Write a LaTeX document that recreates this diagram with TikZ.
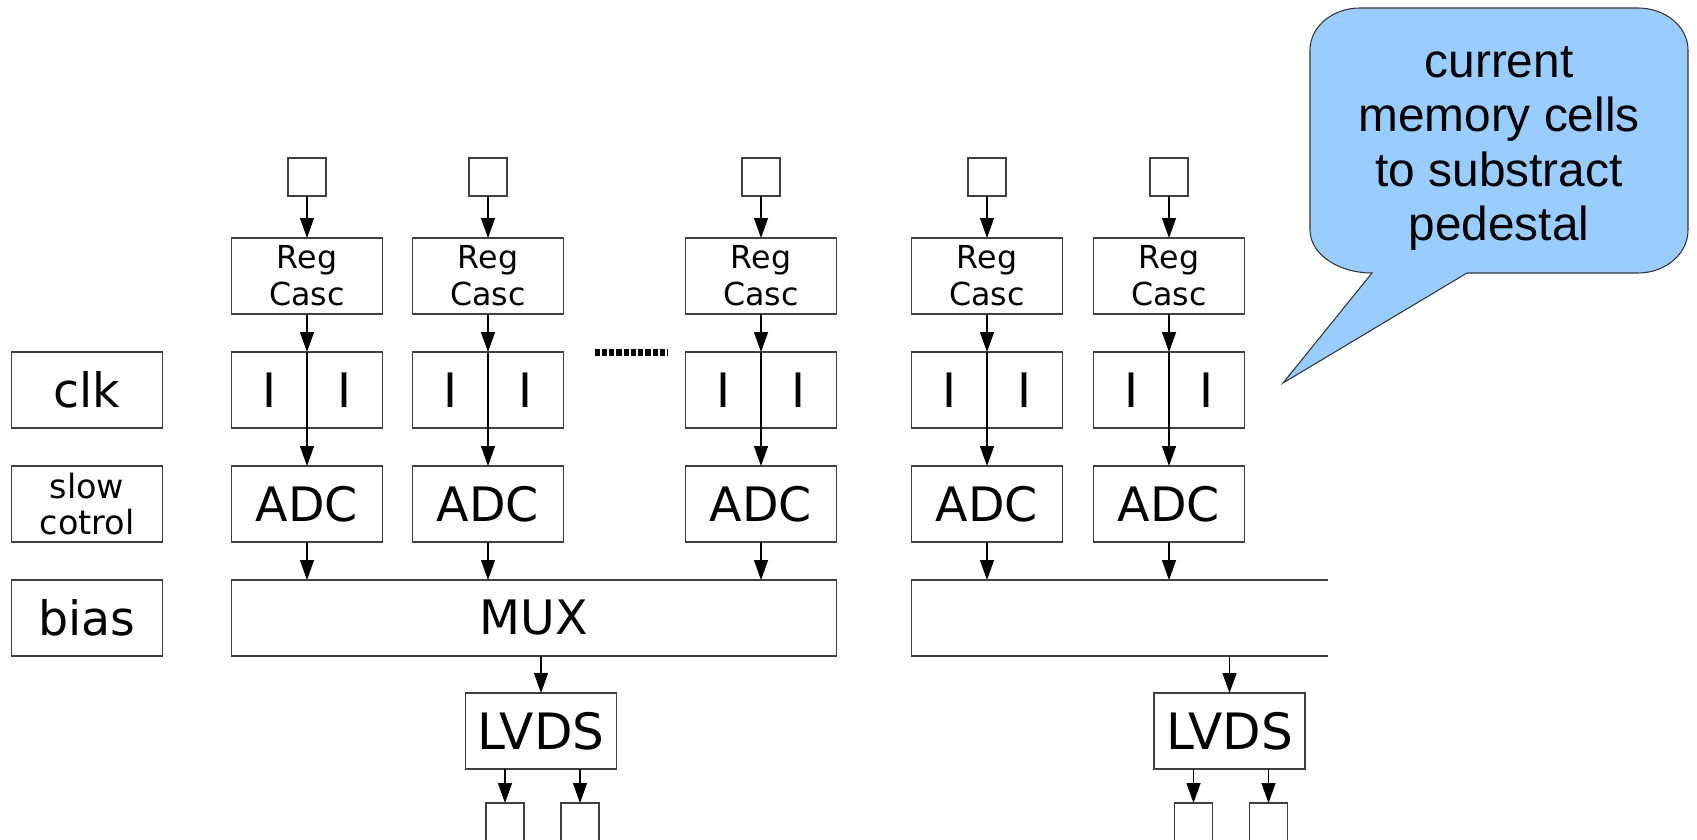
\documentclass[tikz,border=0pt]{standalone}
\usepackage{fontspec}
\setmainfont{DejaVu Sans}
\newfontfamily\notefont{Liberation Sans}
\usepackage{xcolor}
\usetikzlibrary{arrows.meta, positioning, calc}

\definecolor{noteblue}{HTML}{99CCFF}

\begin{document}
\begin{tikzpicture}[
    node distance=0.76cm,
    blk/.style={rectangle, draw=black!75, line width=0.75pt, minimum width=3.02cm, minimum height=1.52cm, inner sep=0pt, outer sep=0pt, align=center, font=\fontsize{27}{32}\selectfont},
    regblk/.style={blk, font=\fontsize{18}{21}\selectfont},
    padblk/.style={rectangle, draw=black!75, line width=0.75pt, minimum size=0.76cm, inner sep=0pt, outer sep=0pt},
    arr/.style={-{Triangle[length=0.4cm, width=0.28cm]}, line width=0.75pt, color=black},
    dotline/.style={line width=0.14cm, dash pattern=on 0.105cm off 0.04cm},
    bubble/.style={draw=black!80, line width=0.6pt, fill=noteblue}
]
\useasboundingbox (0,0) rectangle (33.94,-16.8);

% register cascades
\node[regblk] (reg1) at (6.14,-5.52) {Reg\\Casc};
\node[regblk, right=0.6cm of reg1] (reg2) {Reg\\Casc};
\node[regblk, right=2.44cm of reg2] (reg3) {Reg\\Casc};
\node[regblk, right=1.5cm of reg3] (reg4) {Reg\\Casc};
\node[regblk, right=0.62cm of reg4] (reg5) {Reg\\Casc};

% input pads
\node[padblk, above=0.84cm of reg1] (in1) {};
\node[padblk, above=0.84cm of reg2] (in2) {};
\node[padblk, above=0.84cm of reg3] (in3) {};
\node[padblk, above=0.84cm of reg4] (in4) {};
\node[padblk, above=0.84cm of reg5] (in5) {};

% current memory cells
\node[blk, below=of reg1] (i1) {\makebox[1.51cm]{I}\makebox[1.51cm]{I}};
\node[blk, below=of reg2] (i2) {\makebox[1.51cm]{I}\makebox[1.51cm]{I}};
\node[blk, below=of reg3] (i3) {\makebox[1.51cm]{I}\makebox[1.51cm]{I}};
\node[blk, below=of reg4] (i4) {\makebox[1.51cm]{I}\makebox[1.51cm]{I}};
\node[blk, below=of reg5] (i5) {\makebox[1.51cm]{I}\makebox[1.51cm]{I}};

\node[blk, below=of i1] (adc1) {ADC};
\node[blk, below=of i2] (adc2) {ADC};
\node[blk, below=of i3] (adc3) {ADC};
\node[blk, below=of i4] (adc4) {ADC};
\node[blk, below=of i5] (adc5) {ADC};

\node[blk, minimum width=12.1cm, below=of adc1.south west, anchor=north west] (mux1) {MUX};
\node[blk, draw=none, minimum width=8.32cm, below=of adc4.south west, anchor=north west] (mux2) {};
\draw[draw=black!75, line width=0.75pt] (mux2.north east) -- (mux2.north west) -- (mux2.south west) -- (mux2.south east);

\node[blk, below=0.74cm of mux1, xshift=0.14cm, font=\fontsize{28.5}{32}\selectfont] (lvds1) {LVDS};
\node[blk, below=0.74cm of mux2.south west, xshift=6.36cm, font=\fontsize{28.5}{32}\selectfont] (lvds2) {LVDS};

\node[padblk, below=0.68cm of lvds1, xshift=-0.72cm] (out1) {};
\node[padblk, below=0.68cm of lvds1, xshift=0.78cm] (out2) {};
\node[padblk, below=0.68cm of lvds2, xshift=-0.72cm] (out3) {};
\node[padblk, below=0.68cm of lvds2, xshift=0.78cm] (out4) {};

% control inputs
\node[blk, left=1.38cm of i1, font=\fontsize{27}{32}\selectfont] (clk) {clk};
\node[regblk, left=1.38cm of adc1, font=\fontsize{19}{20.5}\selectfont] (slow) {slow\\cotrol};
\node[blk, left=1.38cm of mux1] (bias) {bias};

\draw[arr] (in1) -- (reg1);
\draw[arr] (in2) -- (reg2);
\draw[arr] (in3) -- (reg3);
\draw[arr] (in4) -- (reg4);
\draw[arr] (in5) -- (reg5);

\draw[arr] (reg1) -- (i1.north);
\draw[arr] (reg2) -- (i2.north);
\draw[arr] (reg3) -- (i3.north);
\draw[arr] (reg4) -- (i4.north);
\draw[arr] (reg5) -- (i5.north);

\draw[arr] (i1.north) -- (adc1);
\draw[arr] (i2.north) -- (adc2);
\draw[arr] (i3.north) -- (adc3);
\draw[arr] (i4.north) -- (adc4);
\draw[arr] (i5.north) -- (adc5);

\draw[arr] (adc1) -- (adc1.south |- mux1.north);
\draw[arr] (adc2) -- (adc2.south |- mux1.north);
\draw[arr] (adc3) -- (adc3.south |- mux1.north);
\draw[arr] (adc4) -- (adc4.south |- mux2.north);
\draw[arr] (adc5) -- (adc5.south |- mux2.north);

\draw[arr] (lvds1.north |- mux1.south) -- (lvds1);
\draw[arr] (lvds2.north |- mux2.south) -- (lvds2);

\draw[arr] (out1.north |- lvds1.south) -- (out1);
\draw[arr] (out2.north |- lvds1.south) -- (out2);
\draw[arr] (out3.north |- lvds2.south) -- (out3);
\draw[arr] (out4.north |- lvds2.south) -- (out4);

\draw[dotline] ([xshift=0.62cm]i2.north east) -- ([xshift=-0.36cm]i3.north west);

% speech bubble
\draw[bubble] (27.44,-5.46) arc[start angle=270, end angle=180, x radius=1.24cm, y radius=0.86cm]
    -- (26.2,-1.0) arc[start angle=180, end angle=90, x radius=1.0cm, y radius=0.84cm]
    -- (32.76,-0.16) arc[start angle=90, end angle=0, x radius=1.0cm, y radius=0.84cm]
    -- (33.76,-4.6) arc[start angle=0, end angle=-90, x radius=1.0cm, y radius=0.86cm]
    -- (29.34,-5.46) -- (25.66,-7.66) -- cycle;
\node[font=\notefont\fontsize{27.2}{31}\selectfont, align=center] (note) at (29.98,-2.97) {current\\memory cells\\to substract\\pedestal};

\end{tikzpicture}
\end{document}
